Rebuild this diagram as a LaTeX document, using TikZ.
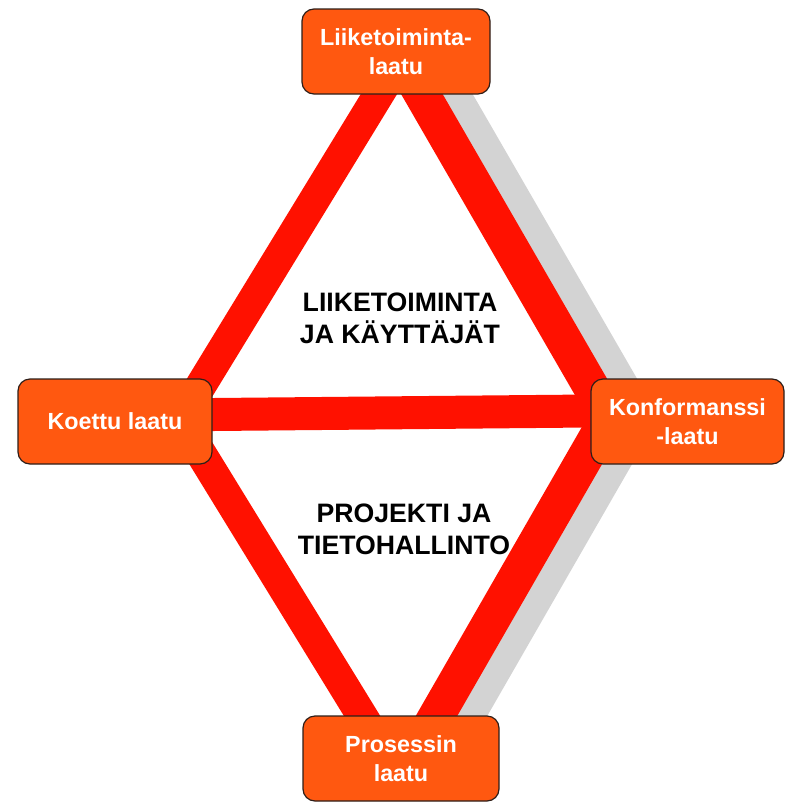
\documentclass[tikz,border=0pt]{standalone}
\usepackage{fontspec}
\setmainfont{Liberation Sans}
\usetikzlibrary{calc}
\usetikzlibrary{backgrounds}
\definecolor{custom-red}{RGB}{255, 17, 0}
\definecolor{custom-orange}{RGB}{255, 88, 16}
\definecolor{custom-grey}{RGB}{211, 211, 211}
\definecolor{custom-border}{RGB}{45, 30, 25}

\tikzset{
  laatu/.style={rectangle, rounded corners=9pt, fill=custom-orange, draw=custom-border,
    line width=0.9pt, text=white, font=\fontsize{17.5}{21.75}\selectfont\bfseries,
    align=center, minimum height=63.75pt, inner sep=0pt},
  alue/.style={font=\fontsize{20}{24}\selectfont\bfseries, align=center, inner sep=0pt},
  nauha/.style={draw=custom-red, line join=miter},
  varjo/.style={draw=custom-grey, line join=miter}
}

\begin{document}
\begin{tikzpicture}[x=0.75pt, y=-0.75pt]
\useasboundingbox (0,0) rectangle (792,803);
% laatulaatikot
\node[laatu, minimum width=141pt] (liike) at (396,51.5) {Liiketoiminta-\\laatu};
\node[laatu, minimum width=145.5pt] (koettu) at (115,421.5) {Koettu laatu};
\node[laatu, minimum width=144.75pt] (konf) at (687.5,421.5) {Konformanssi\\-laatu};
\node[laatu, minimum width=147pt] (prosessi) at (401,758.5) {Prosessin\\laatu};
% alueiden tekstit
\node[alue] (liiketoiminta) at (400,318) {LIIKETOIMINTA\\JA KÄYTTÄJÄT};
\node[alue] (projekti) at (404,529) {PROJEKTI JA\\TIETOHALLINTO};
% nauhojen kulmat
\coordinate (ylakulma) at ($(liike.center)+(5,6.5)$);
\coordinate (vasenkulma) at ($(koettu.east)+(-32.5,-2)$);
\coordinate (oikeakulma) at ($(konf.west)+(18,-4.5)$);
\coordinate (alakulma) at ($(prosessi.center)+(-0.5,20)$);
\begin{pgfonlayer}{background}
\draw[varjo, line width=27pt] ($(ylakulma)+(30,0)$) -- ($(oikeakulma)+(30,0)$) -- ($(alakulma)+(30,0)$);
\draw[nauha, line width=27pt] (ylakulma) -- (oikeakulma) -- (alakulma);
\draw[nauha, line width=23.25pt] (ylakulma) -- (vasenkulma) -- (alakulma);
\draw[nauha, line width=24.75pt] ($(koettu.east)+(-20,-6.8)$) -- ($(konf.west)+(20,-10.7)$);
\end{pgfonlayer}
\end{tikzpicture}
\end{document}
